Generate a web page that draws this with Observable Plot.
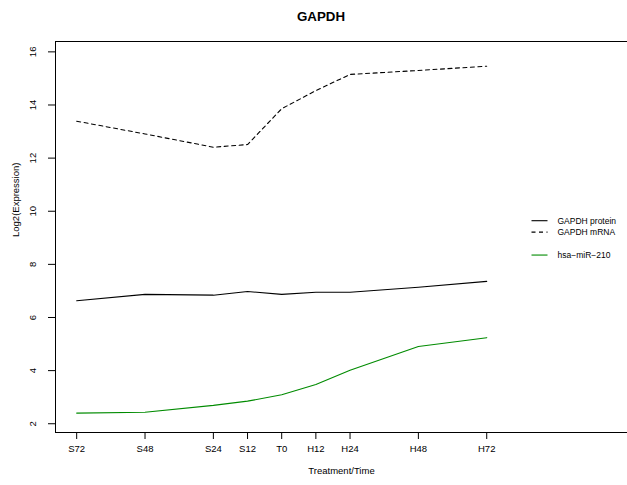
<!DOCTYPE html>
<html>
<head>
<meta charset="utf-8">
<script src="https://cdn.jsdelivr.net/npm/d3@7"></script>
<script src="https://cdn.jsdelivr.net/npm/@observablehq/plot@0.6"></script>
<style>
  body { margin: 0; background: #fff; }
  #chart { position: relative; width: 627px; height: 485px; font-family: "Liberation Sans", Arial, sans-serif; }
  #title { position: absolute; left: 221px; top: 9px; width: 200px; text-align: center;
           font-size: 13.3px; line-height: 16px; font-weight: bold; color: #000; }
  #chart svg { display: block; }
</style>
</head>
<body>
<div id="chart"><div id="title">GAPDH</div></div>
<script>
// Time points (hours relative to T0) and their labels
const timepoints = ["S72", "S48", "S24", "S12", "T0", "H12", "H24", "H48", "H72"];
const hours = [-72, -48, -24, -12, 0, 12, 24, 48, 72];

// Log2 expression per time point
const protein = [6.63, 6.87, 6.84, 6.98, 6.87, 6.95, 6.95, 7.14, 7.36];
const mrna = [13.39, 12.91, 12.41, 12.51, 13.86, 14.54, 15.15, 15.30, 15.46];
const mir210 = [2.40, 2.43, 2.69, 2.85, 3.09, 3.48, 4.01, 4.91, 5.24];

const seriesNames = ["GAPDH protein", "GAPDH mRNA", "hsa\u2212miR\u2212210"];
const seriesColors = ["#000000", "#000000", "#008B00"];
const seriesDashes = [null, "4,3.5", null];
const yTicks = [2, 4, 6, 8, 10, 12, 14, 16];

const xDomain = [-79.44, 121.44];
const yDomain = [1.67, 16.39];

const rows = (values, k) => hours.map((h, i) => ({hour: h, value: values[i], series: seriesNames[k]}));
const seriesData = [rows(protein, 0), rows(mrna, 1), rows(mir210, 2)];

const plot = Plot.plot({
  width: 627,
  height: 485,
  marginTop: 41,
  marginBottom: 53,
  marginLeft: 55,
  marginRight: 0,
  style: {fontFamily: "'Liberation Sans', Arial, sans-serif", fontSize: "9.5px", color: "#000", background: "#fff"},
  x: {domain: xDomain},
  y: {domain: yDomain},
  marks: [
    Plot.axisX({ticks: hours, tickFormat: (d) => timepoints[hours.indexOf(d)], tickSize: 7, tickPadding: 6, label: null}),
    Plot.axisY({ticks: yTicks, tickSize: 7, tickRotate: -90, tickPadding: 13, label: null}),
    // box edges: left, top and bottom
    Plot.ruleX([xDomain[0]], {stroke: "#000"}),
    Plot.ruleY(yDomain, {stroke: "#000"}),
    ...seriesData.map((d, k) => Plot.line(d, {
      x: "hour", y: "value",
      stroke: seriesColors[k], strokeWidth: 1.1,
      strokeDasharray: seriesDashes[k] ?? undefined
    })),
    Plot.text(["Treatment/Time"], {text: (d) => d, frameAnchor: "bottom", dy: 41}),
    Plot.text(["Log2(Expression)"], {text: (d) => d, frameAnchor: "left", dx: -40, rotate: -90})
  ]
});

document.getElementById("chart").appendChild(plot);

// legend, inside the plot area on the right
const svg = d3.select(plot);
const legendSlots = [0, 1, 3];
const lg = svg.append("g").attr("font-size", "8.5px").attr("fill", "#000").attr("text-anchor", "start");
seriesNames.forEach((name, k) => {
  const y = 220.7 + legendSlots[k] * 11.45;
  lg.append("line")
    .attr("x1", 531.5).attr("x2", 547.5).attr("y1", y).attr("y2", y)
    .attr("stroke", seriesColors[k]).attr("stroke-width", 1.1)
    .attr("stroke-dasharray", seriesDashes[k]);
  lg.append("text").attr("x", 557.5).attr("y", y).attr("dy", "0.34em").text(name);
});
</script>
</body>
</html>
